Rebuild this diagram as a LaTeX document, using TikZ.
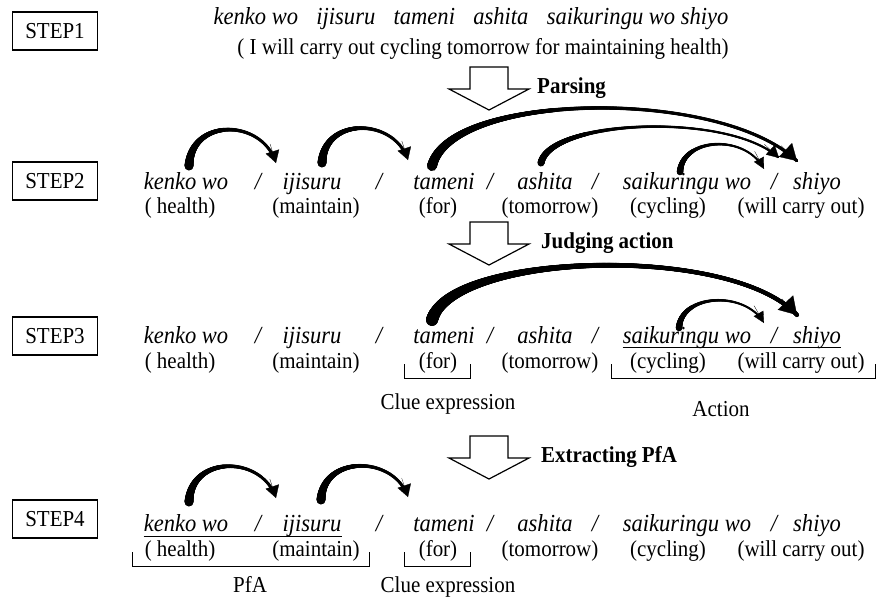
\documentclass[tikz,border=0pt]{standalone}
\usepackage{fontspec}
\setmainfont{Liberation Serif}[FakeStretch=0.92]
\usetikzlibrary{decorations.markings,arrows.meta,calc}

\tikzset{
  word/.style={inner sep=0pt, anchor=base, font=\fontsize{24.5}{28}\selectfont\itshape},
  gloss/.style={inner sep=0pt, anchor=base, font=\fontsize{22.8}{26}\selectfont},
  stepbox/.style={draw, line width=1.1pt, minimum width=85pt, minimum height=38pt,
    inner sep=0pt, font=\fontsize{22.8}{26}\selectfont},
  caption/.style={inner sep=0pt, anchor=base west, font=\fontsize{22.8}{26}\selectfont\bfseries},
  note/.style={inner sep=0pt, anchor=base, font=\fontsize{22.8}{26}\selectfont},
  bigarrow/.style={draw, line width=1.2pt, fill=white, line join=miter},
  bracket/.style={line width=0.8pt},
  uline/.style={line width=1pt},
  % tapered body of a curved arrow: tail width, end width, falloff exponent, where the body stops
  taper/.style n args={4}{postaction={decorate,decoration={markings,
     mark=between positions 0 and -#4 step 0.3pt with {
       \pgfmathsetmacro\ts{\pgfkeysvalueof{/pgf/decoration/mark info/distance from start}/\pgfdecoratedpathlength}
       \pgfmathsetmacro\tw{(#2)+((#1)-(#2))*(1-\ts)^(#3)}
       \fill (0pt,0pt) circle[radius=\tw*0.5pt];}
  }}},
  % arrowhead of a curved arrow, laid along the last control leg: length, width
  tiphead/.style 2 args={line width=0.3pt, -{Triangle[length=#1pt,width=#2pt]}},
}

\begin{document}
\begin{tikzpicture}[x=1pt,y=-1pt]
\useasboundingbox (0,0) rectangle (883,598);

% step labels
\node[stepbox] (st1) at (55,31)  {STEP1};
\node[stepbox] (st2) at (55,181) {STEP2};
\node[stepbox] (st3) at (55,336) {STEP3};
\node[stepbox] (st4) at (55,519) {STEP4};

% sentence and its translation
\node[word] (sent) at (471,24) {kenko wo\hspace{0.75em}ijisuru\hspace{0.75em}tameni\hspace{0.75em}ashita\hspace{0.75em}saikuringu wo shiyo};
\node[gloss] (trans) at (483,54) {( I will carry out cycling tomorrow for maintaining health)};

% segmented rows
\foreach \r/\yw/\yg in {2/189/213, 3/343/368, 4/531/556}{
  \node[word] (w\r-a) at (186,\yw) {kenko wo};
  \node[word] (s\r-1) at (258,\yw) {/};
  \node[word] (w\r-b) at (312,\yw) {ijisuru};
  \node[word] (s\r-2) at (379,\yw) {/};
  \node[word] (w\r-c) at (444,\yw) {tameni};
  \node[word] (s\r-3) at (490,\yw) {/};
  \node[word] (w\r-d) at (545,\yw) {ashita};
  \node[word] (s\r-4) at (595,\yw) {/};
  \node[word] (w\r-e) at (687,\yw) {saikuringu wo};
  \node[word] (s\r-5) at (774,\yw) {/};
  \node[word] (w\r-f) at (817,\yw) {shiyo};
  \node[gloss] (g\r-a) at (180,\yg) {( health)};
  \node[gloss] (g\r-b) at (316,\yg) {(maintain)};
  \node[gloss] (g\r-c) at (438,\yg) {(for)};
  \node[gloss] (g\r-d) at (550,\yg) {(tomorrow)};
  \node[gloss] (g\r-e) at (668,\yg) {(cycling)};
  \node[gloss] (g\r-f) at (801,\yg) {(will carry out)};
}

% process arrows between steps
\draw[bigarrow] (470,67) -- (508,67) -- (508,89) -- (529,89) -- (489,110) -- (449,89) -- (470,89) -- cycle;
\node[caption] (cap1) at (537,93) {Parsing};
\draw[bigarrow] (470,222) -- (508,222) -- (508,244) -- (529,244) -- (489,265) -- (449,244) -- (470,244) -- cycle;
\node[caption] (cap2) at (541,248) {Judging action};
\draw[bigarrow] (470,436) -- (508,436) -- (508,458) -- (529,458) -- (489,479) -- (449,458) -- (470,458) -- cycle;
\node[caption] (cap3) at (541,462) {Extracting PfA};

% dependency arcs, step 2
\coordinate (a1t) at (189,166); \coordinate (a1c) at (262,118); \coordinate (a1h) at (276,163);
\coordinate (a2t) at (322,163); \coordinate (a2c) at (394,117); \coordinate (a2h) at (408,160);
\coordinate (a3t) at (432,166); \coordinate (a3c) at (720,87);  \coordinate (a3h) at (797,161);
\coordinate (a4t) at (541,163); \coordinate (a4c) at (730,112); \coordinate (a4h) at (779,158);
\coordinate (a5t) at (680,172); \coordinate (a5c) at (745,133); \coordinate (a5h) at (764,169);
\path[taper={9}{3}{3}{7pt}] (a1t) .. controls (191,118) and (a1c) .. (a1h);
\draw[tiphead={12}{14}] ($(a1h)!20pt!(a1c)$) -- (a1h);
\path[taper={9}{3}{3}{7pt}] (a2t) .. controls (324,117) and (a2c) .. (a2h);
\draw[tiphead={12}{14}] ($(a2h)!20pt!(a2c)$) -- (a2h);
\path[taper={10}{3.2}{5}{8pt}] (a3t) .. controls (450,92) and (a3c) .. (a3h);
\draw[tiphead={16}{19}] ($(a3h)!22pt!(a3c)$) -- (a3h);
\path[taper={7}{2.2}{4}{6pt}] (a4t) .. controls (550,119) and (a4c) .. (a4h);
\draw[tiphead={12}{13}] ($(a4h)!20pt!(a4c)$) -- (a4h);
\path[taper={6.5}{2}{3}{6pt}] (a5t) .. controls (682,138) and (a5c) .. (a5h);
\draw[tiphead={11}{11}] ($(a5h)!20pt!(a5c)$) -- (a5h);

% step 3: clue expression and action
\coordinate (b1t) at (432,320); \coordinate (b1c) at (730,243); \coordinate (b1h) at (797,315);
\coordinate (b2t) at (679,328); \coordinate (b2c) at (745,290); \coordinate (b2h) at (764,323);
\path[taper={12}{4.2}{4}{9pt}] (b1t) .. controls (450,253) and (b1c) .. (b1h);
\draw[tiphead={17}{21}] ($(b1h)!22pt!(b1c)$) -- (b1h);
\path[taper={6.5}{2}{3}{6pt}] (b2t) .. controls (681,294) and (b2c) .. (b2h);
\draw[tiphead={11}{11}] ($(b2h)!20pt!(b2c)$) -- (b2h);
\draw[uline] ([yshift=-4pt]w3-e.base west) -- ([yshift=-4pt]w3-f.base east);
\draw[bracket] (404,364) -- (404,378) -- (470,378) -- (470,364);
\draw[bracket] (611,364) -- (611,378) -- (875,378) -- (875,364);
\node[note] (clue3) at (448,409) {Clue expression};
\node[note] (act3) at (721,416) {Action};

% step 4: purpose for action
\coordinate (c1t) at (189,502); \coordinate (c1c) at (262,455); \coordinate (c1h) at (276,498);
\coordinate (c2t) at (321,500); \coordinate (c2c) at (394,455); \coordinate (c2h) at (408,497);
\path[taper={9}{3}{3}{7pt}] (c1t) .. controls (191,455) and (c1c) .. (c1h);
\draw[tiphead={12}{14}] ($(c1h)!20pt!(c1c)$) -- (c1h);
\path[taper={9}{3}{3}{7pt}] (c2t) .. controls (323,455) and (c2c) .. (c2h);
\draw[tiphead={12}{14}] ($(c2h)!20pt!(c2c)$) -- (c2h);
\draw[uline] ([yshift=-5pt]w4-a.base west) -- ([yshift=-5pt]w4-b.base east);
\draw[bracket] (132,552) -- (132,566) -- (369,566) -- (369,552);
\draw[bracket] (404,552) -- (404,566) -- (470,566) -- (470,552);
\node[note] (pfa4) at (250,592) {PfA};
\node[note] (clue4) at (448,592) {Clue expression};
\end{tikzpicture}
\end{document}
